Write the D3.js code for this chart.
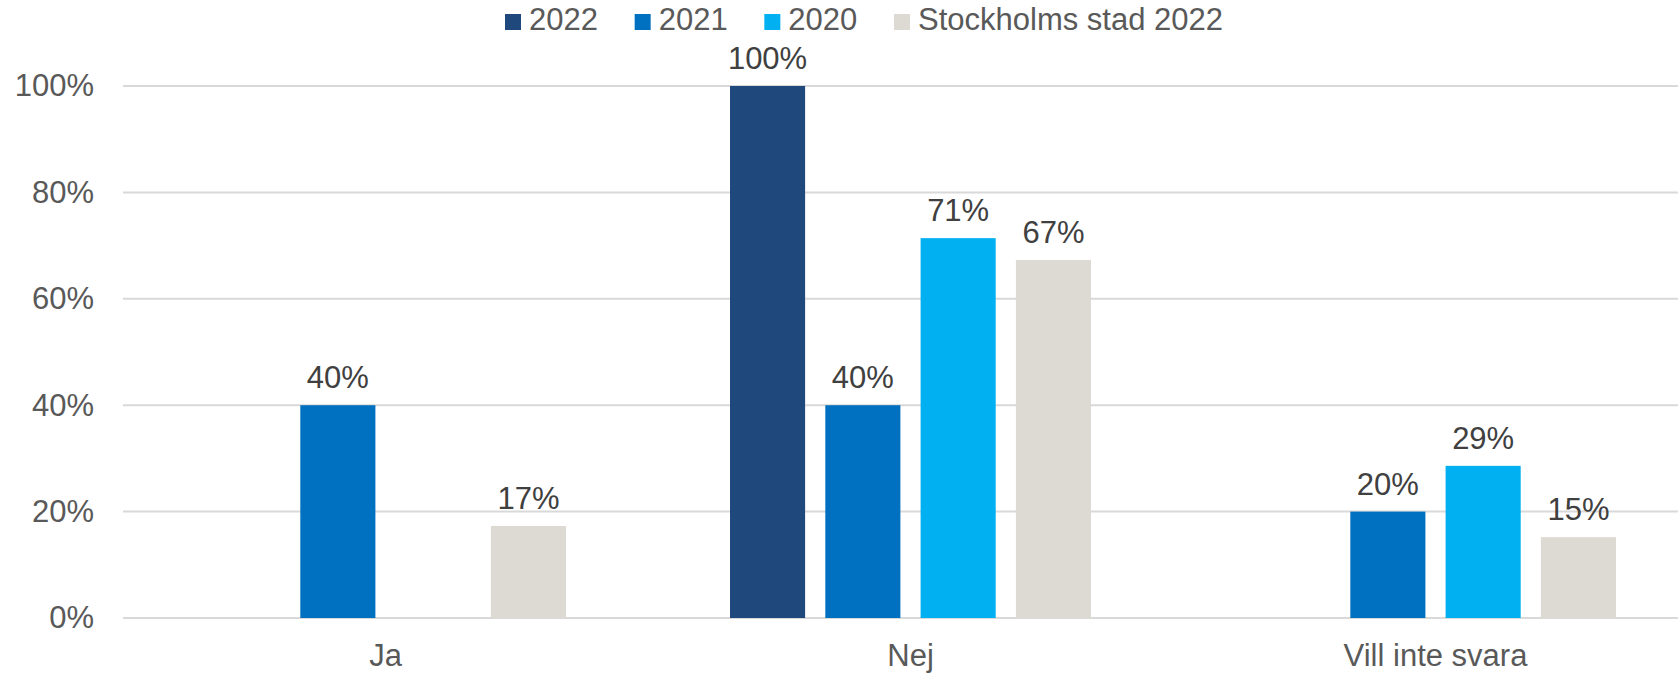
<!DOCTYPE html>
<html>
<head>
<meta charset="utf-8">
<script src="https://cdn.jsdelivr.net/npm/d3@7"></script>
<style>
  html, body { margin: 0; padding: 0; background: #fff; overflow: hidden; }
  svg { display: block; font-family: "Liberation Sans", Arial, sans-serif; }
</style>
</head>
<body>
<svg id="chart" width="1678" height="674"></svg>
<script>
const categories = ["Ja", "Nej", "Vill inte svara"];
const seriesNames = ["2022", "2021", "2020", "Stockholms stad 2022"];
const seriesColors = ["#1F497D", "#0070C0", "#00B0F0", "#DDDAD3"];
const values2022 = [null, 1.00, null];
const values2021 = [0.40, 0.40, 0.20];
const values2020 = [null, 0.714, 0.286];
const valuesStockholm = [0.173, 0.673, 0.152];
const yTicks = [0, 0.2, 0.4, 0.6, 0.8, 1.0];

const seriesValues = [values2022, values2021, values2020, valuesStockholm];

const svg = d3.select("#chart");
const plot = { left: 123, right: 1698, top: 86, bottom: 618 };

const x0 = d3.scaleBand().domain(categories)
  .range([plot.left, plot.right]).paddingInner(0.3124).paddingOuter(0.1562);
const x1 = d3.scaleBand().domain(seriesNames)
  .range([0, x0.bandwidth()]).paddingInner(0.212).paddingOuter(0);
const y = d3.scaleLinear().domain([0, 1]).range([plot.bottom, plot.top]);

// gridlines
svg.append("g").selectAll("line").data(yTicks).join("line")
  .attr("x1", plot.left).attr("x2", plot.right)
  .attr("y1", d => y(d)).attr("y2", d => y(d))
  .attr("stroke", "#D9D9D9").attr("stroke-width", 2);

// y axis labels
const yAxis = d3.axisLeft(y).tickValues(yTicks).tickSize(0).tickPadding(0)
  .tickFormat(d => Math.round(d * 100) + "%");
const yg = svg.append("g").attr("transform", `translate(94,0)`).call(yAxis);
yg.select(".domain").remove();
yg.selectAll("text").attr("font-size", 31).attr("fill", "#595959")
  .attr("font-family", "'Liberation Sans', Arial, sans-serif");

// x axis labels
const xAxis = d3.axisBottom(x0).tickSize(0).tickPadding(0);
const xg = svg.append("g").attr("transform", `translate(0,${plot.bottom})`).call(xAxis);
xg.select(".domain").remove();
xg.selectAll("text").attr("font-size", 31).attr("fill", "#595959")
  .attr("font-family", "'Liberation Sans', Arial, sans-serif")
  .attr("dy", null).attr("y", 48);

// bars
const data = [];
categories.forEach((c, ci) => {
  seriesNames.forEach((s, si) => {
    const v = seriesValues[si][ci];
    if (v !== null && v !== undefined) data.push({ c, s, si, v });
  });
});

const bars = svg.append("g");
bars.selectAll("rect").data(data).join("rect")
  .attr("x", d => x0(d.c) + x1(d.s))
  .attr("width", x1.bandwidth())
  .attr("y", d => y(d.v))
  .attr("height", d => y(0) - y(d.v))
  .attr("fill", d => seriesColors[d.si]);

bars.selectAll("text").data(data).join("text")
  .attr("x", d => x0(d.c) + x1(d.s) + x1.bandwidth() / 2)
  .attr("y", d => y(d.v) - 17)
  .attr("text-anchor", "middle")
  .attr("font-size", 31)
  .attr("fill", "#404040")
  .text(d => Math.round(d.v * 100) + "%");

// legend
const legend = svg.append("g");
let lx = 505;
seriesNames.forEach((s, i) => {
  legend.append("rect").attr("x", lx).attr("y", 14).attr("width", 16).attr("height", 16)
    .attr("fill", seriesColors[i]);
  const t = legend.append("text").attr("x", lx + 24).attr("y", 30)
    .attr("font-size", 31).attr("fill", "#595959").text(s);
  lx += 24 + t.node().getComputedTextLength() + 36.7;
});
</script>
</body>
</html>
